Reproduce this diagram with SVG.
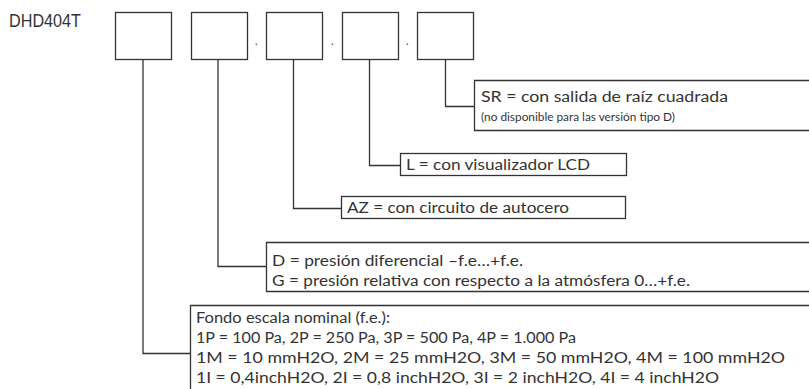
<svg xmlns="http://www.w3.org/2000/svg" width="809" height="389" viewBox="0 0 809 389">
<style>
.bx{fill:none;stroke:#333;stroke-width:1.3}
.cn{fill:none;stroke:#333;stroke-width:1.3}
.t{font-family:Lato,"Open Sans","Liberation Sans",sans-serif;font-size:15.5px;fill:#333}
.s{font-family:Lato,"Open Sans","Liberation Sans",sans-serif;font-size:11px;fill:#333}
.h{font-family:"Liberation Sans",Arial,sans-serif;font-size:18px;fill:#333}
</style>
<rect width="809" height="389" fill="#fff"/>
<g id="title"><text class="h" x="9" y="27" textLength="72" lengthAdjust="spacingAndGlyphs">DHD404T</text></g>
<g id="box1"><rect class="bx" x="115.5" y="12.5" width="56" height="47"/></g>
<g id="box2"><rect class="bx" x="191.5" y="12.5" width="56" height="47"/></g>
<g id="box3"><rect class="bx" x="266.5" y="12.5" width="56" height="47"/></g>
<g id="box4"><rect class="bx" x="342.5" y="12.5" width="56" height="47"/></g>
<g id="box5"><rect class="bx" x="417.5" y="12.5" width="56" height="47"/></g>
<g id="dots" class="s"><text x="255" y="45">.</text><text x="331" y="45">.</text><text x="406" y="45">.</text></g>
<g id="connectors">
<polyline class="cn" points="143,59.5 143,353.5 190,353.5"/>
<polyline class="cn" points="218,59.5 218,266.5 266,266.5"/>
<polyline class="cn" points="293.5,59.5 293.5,208.5 341,208.5"/>
<polyline class="cn" points="369.5,59.5 369.5,165.5 400,165.5"/>
<polyline class="cn" points="445.5,59.5 445.5,106.5 474,106.5"/>
</g>
<g id="sr">
<path class="bx" d="M809,80.5 H474.5 V130.5 H809"/>
<text class="t" x="481" y="102" textLength="247" lengthAdjust="spacingAndGlyphs">SR = con salida de raíz cuadrada</text>
<text class="s" x="481" y="121" textLength="194" lengthAdjust="spacingAndGlyphs">(no disponible para las versión tipo D)</text>
</g>
<g id="l">
<rect class="bx" x="400.5" y="153.5" width="226" height="22"/>
<text class="t" x="406" y="170" textLength="184" lengthAdjust="spacingAndGlyphs">L = con visualizador LCD</text>
</g>
<g id="az">
<rect class="bx" x="341.5" y="196.5" width="284" height="22"/>
<text class="t" x="347" y="213" textLength="222" lengthAdjust="spacingAndGlyphs">AZ = con circuito de autocero</text>
</g>
<g id="dg">
<path class="bx" d="M809,242.5 H266.5 V291.5 H809"/>
<text class="t" x="272" y="266" textLength="251" lengthAdjust="spacingAndGlyphs">D = presión diferencial –f.e…+f.e.</text>
<text class="t" x="272" y="286" textLength="418" lengthAdjust="spacingAndGlyphs">G = presión relativa con respecto a la atmósfera 0…+f.e.</text>
</g>
<g id="fondo">
<path class="bx" d="M809,305.5 H190.5 V389"/>
<text class="t" x="196" y="323" textLength="194" lengthAdjust="spacingAndGlyphs">Fondo escala nominal (f.e.):</text>
<text class="t" x="196" y="343" textLength="380" lengthAdjust="spacingAndGlyphs">1P = 100 Pa, 2P = 250 Pa, 3P = 500 Pa, 4P = 1.000 Pa</text>
<text class="t" x="196" y="363" textLength="589" lengthAdjust="spacingAndGlyphs">1M = 10 mmH2O, 2M = 25 mmH2O, 3M = 50 mmH2O, 4M = 100 mmH2O</text>
<text class="t" x="196" y="383" textLength="523" lengthAdjust="spacingAndGlyphs">1I = 0,4inchH2O, 2I = 0,8 inchH2O, 3I = 2 inchH2O, 4I = 4 inchH2O</text>
</g>
</svg>
